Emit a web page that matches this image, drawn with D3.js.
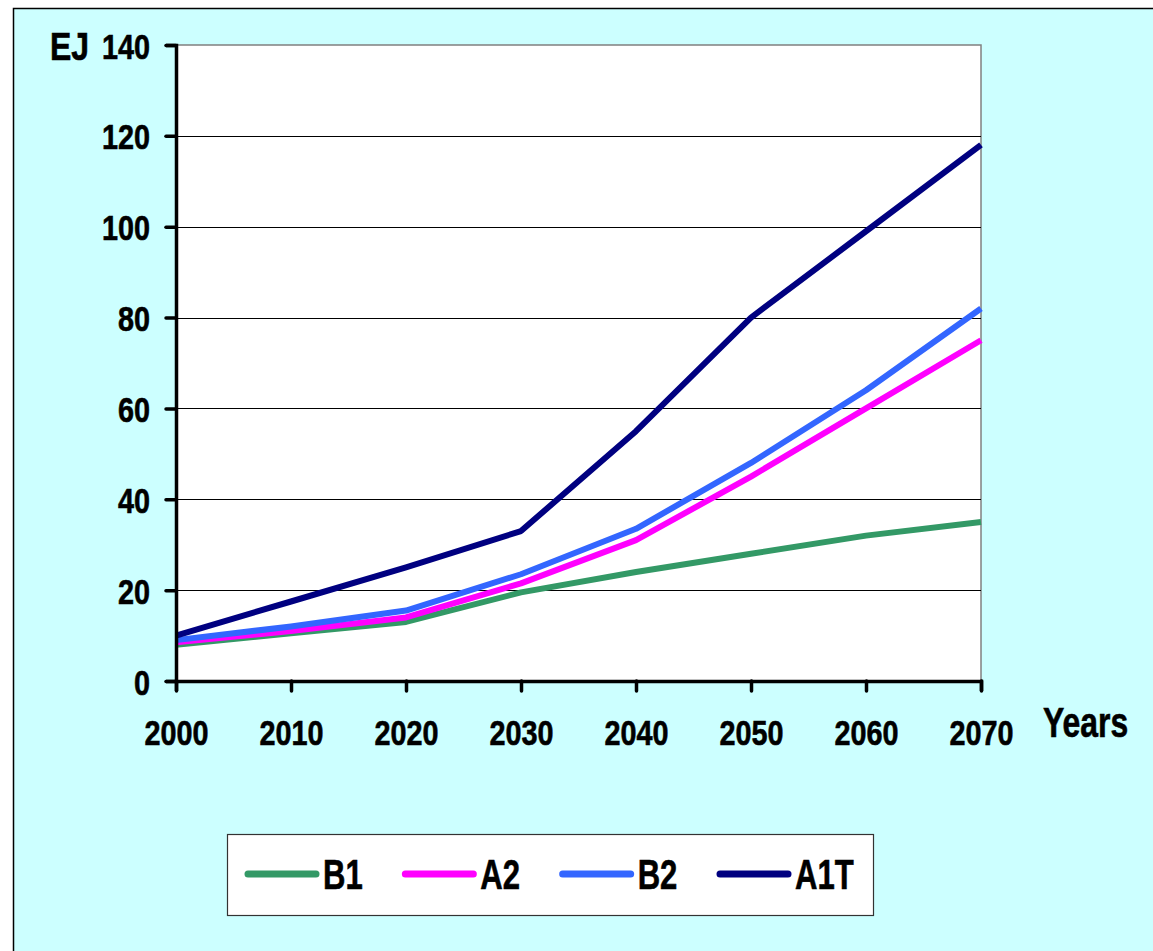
<!DOCTYPE html>
<html>
<head>
<meta charset="utf-8">
<script src="https://cdn.jsdelivr.net/npm/d3@7"></script>
<style>
  html, body { margin: 0; padding: 0; background: #fff; }
  text { font-family: "Liberation Sans", Arial, sans-serif; font-weight: bold; fill: #000; stroke: #000; stroke-width: 0.6px; }
</style>
</head>
<body>
<svg id="chart"></svg>
<script>
// chart data
const years = [2000, 2010, 2020, 2030, 2040, 2050, 2060, 2070];
const seriesNames = ["B1", "A2", "B2", "A1T"];
const seriesColors = ["#339966", "#FF00FF", "#3366FF", "#000080"];
const b1 = [8, 10.5, 13, 19.5, 24, 28, 32, 35];
const a2 = [8.5, 11, 14, 21.5, 31, 45, 60, 75];
const b2 = [9, 12, 15.5, 23.5, 33.5, 48, 64, 82];
const a1t = [10, 17.5, 25, 33, 55, 80, 99, 118];
const yTicks = [0, 20, 40, 60, 80, 100, 120, 140];

const allSeries = [b1, a2, b2, a1t];

// the original uses a condensed bold face, so squeeze the text horizontally
function narrow(sel, x, y, sx) {
    sel.attr("x", 0).attr("y", 0).attr("dy", null)
        .attr("transform", `translate(${x},${y}) scale(${sx},1)`);
}

function drawChart() {
    const width = 1153, height = 951;
    const plot = {left: 176, right: 981, top: 45, bottom: 681};

    const svg = d3.select("#chart")
        .attr("width", width)
        .attr("height", height);

    // cyan chart background with black frame
    svg.append("rect")
        .attr("x", 13.5).attr("y", 8.5)
        .attr("width", width + 20).attr("height", height + 20)
        .attr("fill", "#CCFFFF")
        .attr("stroke", "#000")
        .attr("stroke-width", 1.5);

    const x = d3.scaleLinear().domain([2000, 2070]).range([plot.left, plot.right]);
    const y = d3.scaleLinear().domain([0, 140]).range([plot.bottom, plot.top]);

    // plot area
    svg.append("rect")
        .attr("x", plot.left).attr("y", plot.top)
        .attr("width", plot.right - plot.left)
        .attr("height", plot.bottom - plot.top)
        .attr("fill", "#fff")
        .attr("stroke", "#808080")
        .attr("stroke-width", 1.5);

    // gridlines
    svg.append("g")
        .selectAll("line")
        .data(yTicks.filter(d => d > 0 && d < 140))
        .enter()
        .append("line")
        .attr("x1", plot.left).attr("x2", plot.right)
        .attr("y1", d => Math.round(y(d)) + 0.5)
        .attr("y2", d => Math.round(y(d)) + 0.5)
        .attr("stroke", "#000")
        .attr("stroke-width", 1);

    // series lines
    const line = d3.line()
        .x((d, i) => x(years[i]))
        .y(d => y(d));

    svg.append("g")
        .selectAll("path")
        .data(allSeries)
        .enter()
        .append("path")
        .attr("d", line)
        .attr("fill", "none")
        .attr("stroke", (d, i) => seriesColors[i])
        .attr("stroke-width", 6)
        .attr("stroke-linejoin", "round");

    // y axis
    const yAxis = svg.append("g")
        .attr("transform", `translate(${plot.left},0)`)
        .call(d3.axisLeft(y).tickValues(yTicks).tickSize(10));
    yAxis.select(".domain").attr("stroke", "#000").attr("stroke-width", 3.5);
    yAxis.selectAll(".tick line").attr("stroke", "#000").attr("stroke-width", 3.5).attr("stroke-linecap", "round");
    yAxis.selectAll(".tick text")
        .attr("font-family", null)
        .attr("font-size", null)
        .style("font-size", "36px")
        .attr("fill", "#000")
        .call(narrow, -26, 13, 0.8);

    // x axis
    const xAxis = svg.append("g")
        .attr("transform", `translate(0,${plot.bottom})`)
        .call(d3.axisBottom(x).tickValues(years).tickFormat(d3.format("d")).tickSize(10));
    xAxis.select(".domain").attr("stroke", "#000").attr("stroke-width", 3.5);
    xAxis.selectAll(".tick line").attr("stroke", "#000").attr("stroke-width", 3.5).attr("stroke-linecap", "round");
    xAxis.selectAll(".tick text")
        .attr("font-family", null)
        .attr("font-size", null)
        .style("font-size", "36px")
        .attr("fill", "#000")
        .call(narrow, 0, 64, 0.8);

    // axis titles
    svg.append("text")
        .style("font-size", "39px")
        .text("EJ")
        .call(narrow, 50, 60, 0.82);
    svg.append("text")
        .style("font-size", "42px")
        .text("Years")
        .call(narrow, 1043, 737, 0.76);

    createLegend(svg);
}

function createLegend(svg) {
    const box = {x: 227, y: 834, w: 646, h: 81};
    svg.append("rect")
        .attr("x", box.x + 0.5).attr("y", box.y + 0.5)
        .attr("width", box.w).attr("height", box.h)
        .attr("fill", "#fff")
        .attr("stroke", "#333")
        .attr("stroke-width", 1.2);

    const itemX = d3.scalePoint().domain(seriesNames).range([248, 720]);

    const item = svg.append("g")
        .selectAll("g")
        .data(seriesNames)
        .enter()
        .append("g")
        .attr("transform", d => `translate(${itemX(d)},874)`);

    item.append("line")
        .attr("x1", 0).attr("x2", 68)
        .attr("stroke", (d, i) => seriesColors[i])
        .attr("stroke-width", 7)
        .attr("stroke-linecap", "round");

    item.append("text")
        .style("font-size", "42px")
        .text(d => d)
        .call(narrow, 75, 15, 0.74);
}

drawChart();
</script>
</body>
</html>
